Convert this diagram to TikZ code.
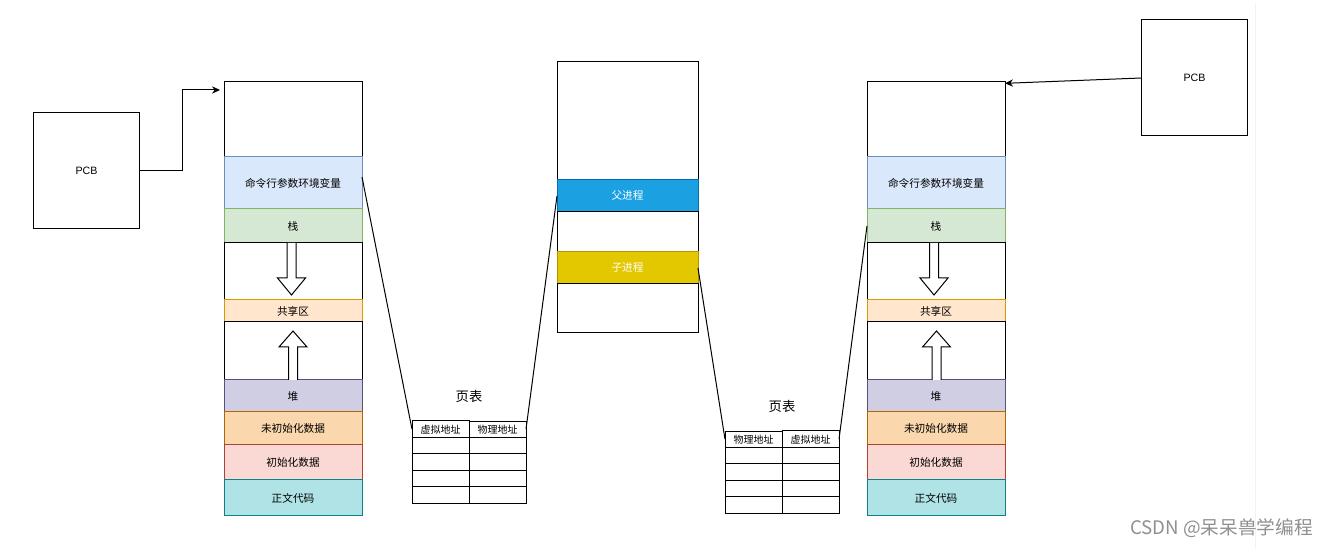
\documentclass[tikz,border=0pt]{standalone}
\usepackage{fontspec}
\setmainfont{Liberation Sans}
\newfontfamily\cjkfont{Noto Sans CJK SC}
\usetikzlibrary{arrows.meta,positioning,matrix}

\definecolor{envfill}{HTML}{DAE8FC}   \definecolor{envline}{HTML}{6C8EBF}
\definecolor{stackfill}{HTML}{D5E8D4} \definecolor{stackline}{HTML}{82B366}
\definecolor{sharefill}{HTML}{FFE6CC} \definecolor{shareline}{HTML}{D79B00}
\definecolor{heapfill}{HTML}{D0CEE2}  \definecolor{heapline}{HTML}{56517E}
\definecolor{bssfill}{HTML}{FAD7AC}   \definecolor{bssline}{HTML}{B46504}
\definecolor{datafill}{HTML}{FAD9D5}  \definecolor{dataline}{HTML}{AE4132}
\definecolor{textfill}{HTML}{B0E3E6}  \definecolor{textline}{HTML}{0E8088}
\definecolor{fatherfill}{HTML}{1BA1E2} \definecolor{fatherline}{HTML}{006EAF}
\definecolor{childfill}{HTML}{E3C800}  \definecolor{childline}{HTML}{B09500}
\definecolor{markgray}{HTML}{909090}

\begin{document}
\begin{tikzpicture}[
    x=0.75pt, y=-0.75pt, line width=0.75pt,
    node distance=0pt,
    seg/.style={draw, outer sep=0pt, inner sep=0pt, minimum width=103.5pt, font=\cjkfont\fontsize{8}{9}\selectfont},
    midseg/.style={seg, minimum width=105.75pt, text=white},
    envseg/.style={fill=envfill, draw=envline},
    stackseg/.style={fill=stackfill, draw=stackline},
    shareseg/.style={fill=sharefill, draw=shareline},
    heapseg/.style={fill=heapfill, draw=heapline},
    bssseg/.style={fill=bssfill, draw=bssline},
    dataseg/.style={fill=datafill, draw=dataline},
    textseg/.style={fill=textfill, draw=textline},
    pcbbox/.style={draw, minimum width=79pt, minimum height=87pt, font=\fontsize{8}{9}\selectfont},
    pagetable/.style={matrix of nodes, nodes in empty cells, inner sep=0pt, outer sep=0pt,
      row sep=-0.75pt, column sep=-0.75pt,
      nodes={draw, outer sep=0pt, inner sep=0pt, minimum width=42.75pt, minimum height=12.3pt,
        font=\cjkfont\fontsize{7.5}{9}\selectfont}},
    tabtitle/.style={font=\cjkfont\fontsize{10}{12}\selectfont},
    blockarrow/.style={draw, fill=white},
    link/.style={draw},
    pointer/.style={-{Stealth[length=6pt, width=5.5pt]}}
  ]
  \useasboundingbox (0,0) rectangle (1332,548);
  \fill[white] (0,0) rectangle (1332,548);
  \draw[black!5] (1255,4) -- (1255,548);

  % left process
  \node[pcbbox] (lpcb) at (86.5,170.5) {PCB};
  \node[seg, minimum height=56.25pt, anchor=north west] (ltop) at (224,82) {};
  \node[seg, envseg, minimum height=39pt, below=of ltop] (lenv) {命令行参数环境变量};
  \node[seg, stackseg, minimum height=25.5pt, below=of lenv] (lstack) {栈};
  \node[seg, minimum height=42.75pt, below=of lstack] (lgap1) {};
  \node[seg, shareseg, minimum height=16.5pt, below=of lgap1] (lshare) {共享区};
  \node[seg, minimum height=43.5pt, below=of lshare] (lgap2) {};
  \node[seg, heapseg, minimum height=24pt, below=of lgap2] (lheap) {堆};
  \node[seg, bssseg, minimum height=24.75pt, below=of lheap] (lbss) {未初始化数据};
  \node[seg, dataseg, minimum height=26.25pt, below=of lbss] (ldata) {初始化数据};
  \node[seg, textseg, minimum height=27pt, below=of ldata] (ltext) {正文代码};
  \draw[blockarrow] (287,243) -- (287,278) -- (277.5,278) -- (291.5,295) -- (305.5,278) -- (296,278) -- (296,243);
  \draw[blockarrow] (288.5,380) -- (288.5,347) -- (279,347) -- (293,331) -- (307,347) -- (297.5,347) -- (297.5,380);

  % physical memory
  \node[midseg, minimum height=88.5pt, anchor=north west] (mtop) at (557,62) {};
  \node[midseg, fill=fatherfill, draw=fatherline, minimum height=24pt, below=of mtop] (mfather) {父进程};
  \node[midseg, minimum height=30pt, below=of mfather] (mgap) {};
  \node[midseg, fill=childfill, draw=childline, minimum height=24pt, below=of mgap] (mchild) {子进程};
  \node[midseg, minimum height=36.75pt, below=of mchild] (mbottom) {};

  % right process
  \node[pcbbox] (rpcb) at (1194.5,78) {PCB};
  \node[seg, minimum height=56.25pt, anchor=north west] (rtop) at (867,82) {};
  \node[seg, envseg, minimum height=39pt, below=of rtop] (renv) {命令行参数环境变量};
  \node[seg, stackseg, minimum height=25.5pt, below=of renv] (rstack) {栈};
  \node[seg, minimum height=42.75pt, below=of rstack] (rgap1) {};
  \node[seg, shareseg, minimum height=16.5pt, below=of rgap1] (rshare) {共享区};
  \node[seg, minimum height=43.5pt, below=of rshare] (rgap2) {};
  \node[seg, heapseg, minimum height=24pt, below=of rgap2] (rheap) {堆};
  \node[seg, bssseg, minimum height=24.75pt, below=of rheap] (rbss) {未初始化数据};
  \node[seg, dataseg, minimum height=26.25pt, below=of rbss] (rdata) {初始化数据};
  \node[seg, textseg, minimum height=27pt, below=of rdata] (rtext) {正文代码};
  \draw[blockarrow] (929.5,243) -- (929.5,278) -- (920,278) -- (934,295) -- (948,278) -- (938.5,278) -- (938.5,243);
  \draw[blockarrow] (932,380) -- (932,347) -- (922.5,347) -- (936.5,331) -- (950.5,347) -- (941,347) -- (941,380);

  % page tables
  \matrix (ltab) [pagetable] at (469,462) {
    虚拟地址 & 物理地址 \\
    & \\
    & \\
    & \\
    & \\
  };
  \node[tabtitle, above=9.5pt of ltab] (ltabtitle) {页表};
  \matrix (rtab) [pagetable] at (782,472) {
    物理地址 & 虚拟地址 \\
    & \\
    & \\
    & \\
    & \\
  };
  \node[tabtitle, above=9.5pt of rtab] (rtabtitle) {页表};

  % connectors
  \draw[link, pointer, shorten >=3pt] (lpcb.east) -- ++(42.5,0) |- ([yshift=-6pt]ltop.north west);
  \draw[link, pointer] (rpcb.west) -- ([yshift=-1pt]rtop.north east);
  \draw[link] ([yshift=4.5pt]lenv.east) -- (ltab-1-1.west);
  \draw[link] (ltab-1-2.east) -- (mfather.west);
  \draw[link] (mchild.east) -- (rtab-1-1.west);
  \draw[link] (rtab-1-2.east) -- (rstack.west);

  \node[font=\cjkfont\fontsize{14}{16}\selectfont, text=markgray] (mark) at (1221.5,528) {CSDN @呆呆兽学编程};
\end{tikzpicture}
\end{document}
